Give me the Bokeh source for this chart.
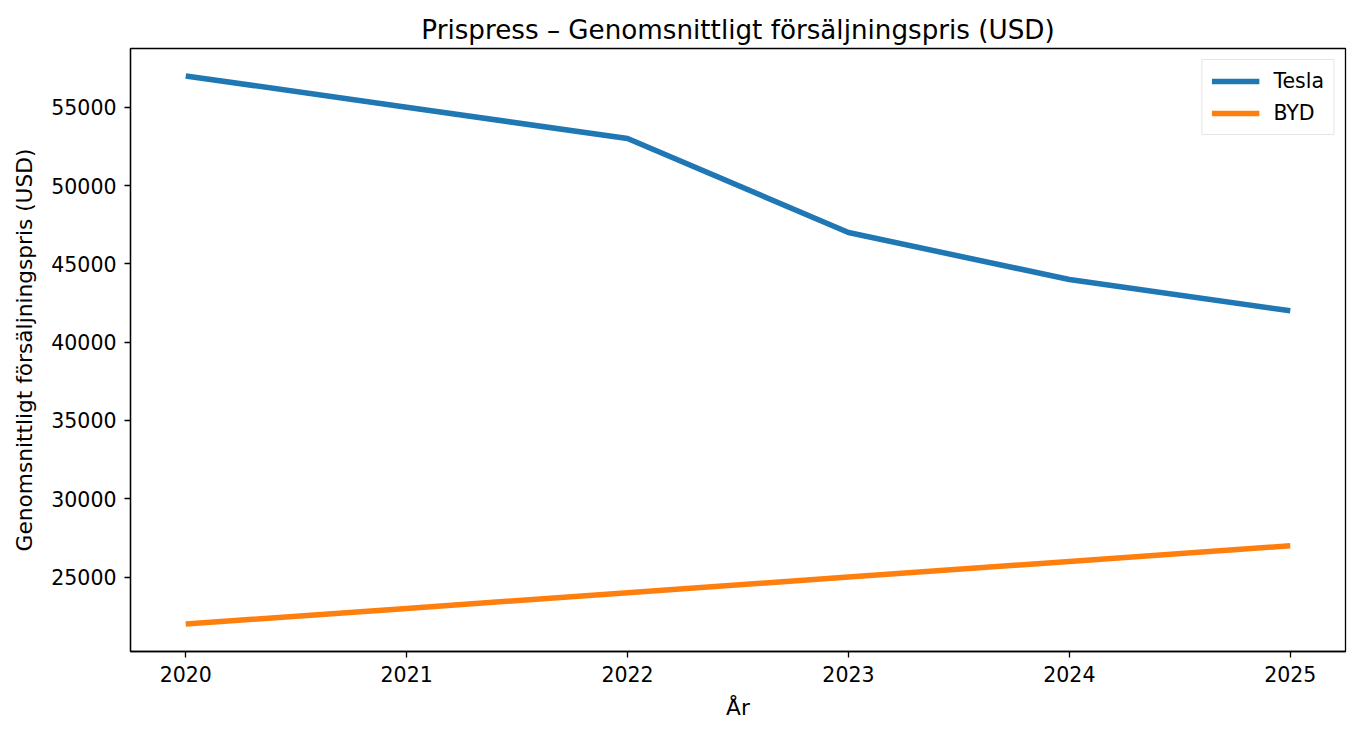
from bokeh.plotting import figure
from bokeh.models import Range1d, Legend, LegendItem, FixedTicker
from bokeh.embed import file_html
from bokeh.resources import INLINE

years = [2020, 2021, 2022, 2023, 2024, 2025]
tesla = [57000, 55000, 53000, 47000, 44000, 42000]
byd = [22000, 23000, 24000, 25000, 26000, 27000]
y_ticks = [25000, 30000, 35000, 40000, 45000, 50000, 55000]

FONT = "DejaVu Sans"

p = figure(width=1352, height=726, output_backend="svg", toolbar_location=None,
           x_range=Range1d(2019.75, 2025.25), y_range=Range1d(20250, 58750),
           min_border_left=130, min_border_right=7, min_border_top=48, min_border_bottom=75)
p.frame_width = 1215
p.frame_height = 603

p.title.text = "Prispress – Genomsnittligt försäljningspris (USD)"
p.title.text_font = FONT
p.title.text_font_size = "26.2px"
p.title.text_font_style = "normal"
p.title.text_color = "black"
p.title.align = "center"
p.title.offset = 0
p.title.standoff = 8

r1 = p.line(years, tesla, line_color="#1f77b4", line_width=5.5)
r2 = p.line(years, byd, line_color="#ff7f0e", line_width=5.5)

p.grid.visible = False
p.outline_line_color = "black"
p.outline_line_width = 1.3
p.background_fill_color = "white"
p.border_fill_color = "white"

for ax in (p.xaxis[0], p.yaxis[0]):
    ax.axis_line_color = "black"
    ax.axis_line_width = 1.3
    ax.major_tick_in = 0
    ax.major_tick_out = 6
    ax.major_tick_line_width = 1.3
    ax.minor_tick_line_color = None
    ax.major_label_text_font = FONT
    ax.major_label_text_font_size = "20.5px"
    ax.major_label_text_color = "black"
    ax.axis_label_text_font = FONT
    ax.axis_label_text_font_size = "21.7px"
    ax.axis_label_text_font_style = "normal"
    ax.axis_label_text_color = "black"

p.xaxis[0].ticker = FixedTicker(ticks=years)
p.yaxis[0].ticker = FixedTicker(ticks=y_ticks)
p.xaxis[0].axis_label = "År"
p.yaxis[0].axis_label = "Genomsnittligt försäljningspris (USD)"
p.xaxis[0].major_label_standoff = 8
p.yaxis[0].major_label_standoff = 8
p.xaxis[0].axis_label_standoff = 10
p.yaxis[0].axis_label_standoff = 11

legend = Legend(items=[LegendItem(label="Tesla", renderers=[r1]),
                       LegendItem(label="BYD", renderers=[r2])],
                location="top_right")
legend.label_text_font = FONT
legend.label_text_font_size = "20.5px"
legend.label_text_color = "black"
legend.glyph_width = 48
legend.glyph_height = 22
legend.label_standoff = 14
legend.spacing = 8
legend.padding = 9
legend.margin = 11
legend.border_line_color = "#cccccc"
legend.border_line_width = 1
legend.background_fill_alpha = 0.8
legend.label_height = 22
p.add_layout(legend)

open("out.html", "w").write(file_html(p, INLINE))
